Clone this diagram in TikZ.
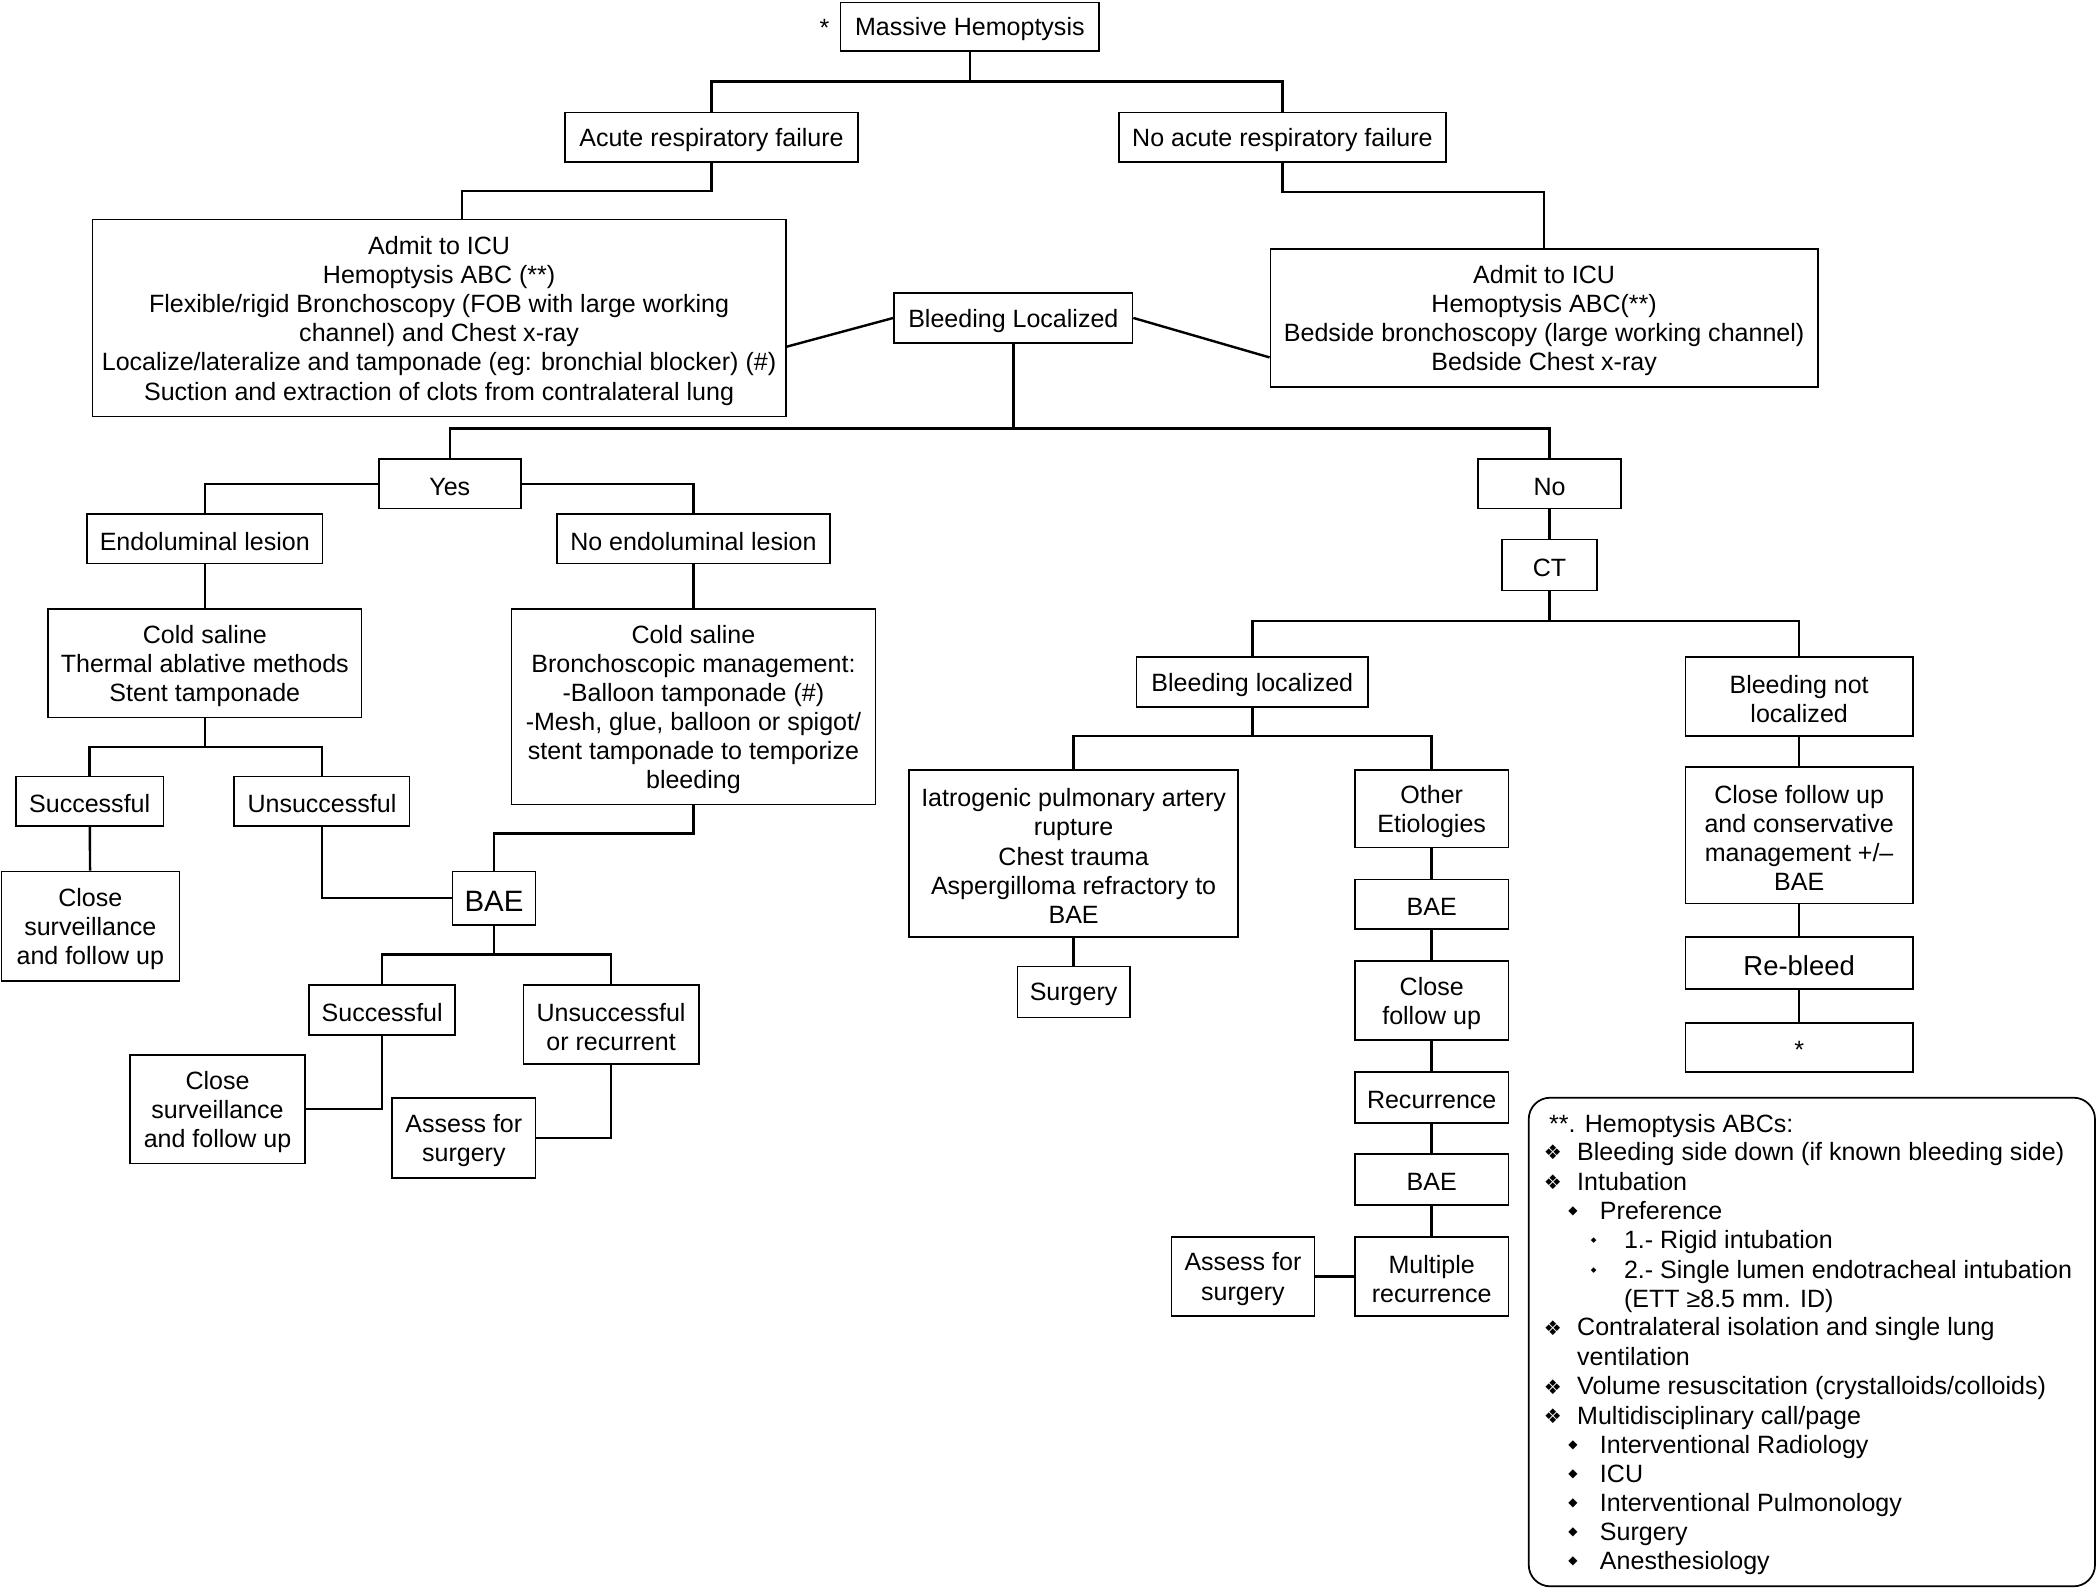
\documentclass[tikz,border=0pt]{standalone}
\usepackage{fontspec}
\setmainfont{Liberation Sans}
\newfontfamily\dejavu{DejaVu Sans}
\newcommand{\boxfont}{\fontsize{18.7}{21.8}\selectfont}
\begin{document}
\begin{tikzpicture}[x=1pt, y=-1pt,
      stage/.style={draw, line width=1.2pt, align=center, inner sep=0pt, font=\boxfont,
        execute at begin node={\vbox\bgroup\kern4pt\hbox\bgroup}, execute at end node={\egroup\egroup}},
      sz/.style 2 args={minimum width=#1pt, minimum height=#2pt},
      link/.style={line width=1.8pt},
      abcline/.style={anchor=base west, inner sep=0pt, font=\boxfont},
      abcmark/.style={inner sep=0pt, font=\dejavu\fontsize{15}{15}\selectfont},
      abcdot/.style={inner sep=0pt, font=\dejavu\fontsize{9}{9}\selectfont}
    ]
      \useasboundingbox (0,0) rectangle (1568,1186.3);

      % Top
      \node[stage, sz={193}{36}] (mh) at (724.5,20) {Massive Hemoptysis};
      \node[inner sep=0pt, font=\boxfont] (mhstar) at (616,21) {*};
      \node[stage, sz={219}{37}] (arf) at (531.5,102.5) {Acute respiratory failure};
      \node[stage, sz={244}{37}] (narf) at (958,102.5) {No acute respiratory failure};
      \node[stage, sz={518}{147}] (icul) at (328,237.5) {Admit to ICU\\Hemoptysis ABC (**)\\Flexible/rigid Bronchoscopy (FOB with large working\\channel) and Chest x-ray\\Localize/lateralize and tamponade (eg: bronchial blocker) (\#)\\Suction and extraction of clots from contralateral lung};
      \node[stage, sz={409}{103}] (icur) at (1153.5,237.5) {Admit to ICU\\Hemoptysis ABC(**)\\Bedside bronchoscopy (large working channel)\\Bedside Chest x-ray};
      \node[stage, sz={178}{37}] (bl) at (757,237.5) {Bleeding Localized};

      % Yes branch
      \node[stage, sz={106}{37}] (yes) at (336,361.5) {Yes};
      \node[stage, sz={176}{37}] (el) at (153,402.5) {Endoluminal lesion};
      \node[stage, sz={204}{37}] (nel) at (518,402.5) {No endoluminal lesion};
      \node[stage, sz={234}{81}] (csl) at (153,495.5) {Cold saline\\Thermal ablative methods\\Stent tamponade};
      \node[stage, sz={272}{146}] (csr) at (518,528) {Cold saline\\Bronchoscopic management:\\-Balloon tamponade (\#)\\-Mesh, glue, balloon or spigot/\\stent tamponade to temporize\\bleeding};
      \node[stage, sz={110}{37}] (sc1) at (67,598.5) {Successful};
      \node[stage, sz={131}{37}] (un1) at (240.5,598.5) {Unsuccessful};
      \node[stage, sz={133}{82}] (cs1) at (67.5,692) {Close\\surveillance\\and follow up};
      \node[stage, sz={62}{40}, font=\fontsize{22}{24}\selectfont] (bae1) at (369,671) {BAE};
      \node[stage, sz={109}{37}] (sc2) at (285.5,754.5) {Successful};
      \node[stage, sz={131}{59}] (ur) at (456.5,765.5) {Unsuccessful\\or recurrent};
      \node[stage, sz={131}{81}] (cs2) at (162.5,828.5) {Close\\surveillance\\and follow up};
      \node[stage, sz={107}{60}] (as1) at (346.5,850) {Assess for\\surgery};

      % No branch
      \node[stage, sz={107}{37}] (no) at (1157.5,361.5) {No};
      \node[stage, sz={71}{38}] (ct) at (1157.5,422) {CT};
      \node[stage, sz={173}{37}] (bl2) at (935.5,509.5) {Bleeding localized};
      \node[stage, sz={170}{59}] (bnl) at (1344,520.5) {Bleeding not\\localized};
      \node[stage, sz={246}{125}] (iat) at (802,637.5) {Iatrogenic pulmonary artery\\rupture\\Chest trauma\\Aspergilloma refractory to\\BAE};
      \node[stage, sz={115}{58}] (oe) at (1069.5,604) {Other\\Etiologies};
      \node[stage, sz={84}{38}] (surg) at (802,741) {Surgery};
      \node[stage, sz={115}{37}] (bae2) at (1069.5,675.5) {BAE};
      \node[stage, sz={115}{59}] (cfu) at (1069.5,747.5) {Close\\follow up};
      \node[stage, sz={115}{38}] (rec) at (1069.5,820) {Recurrence};
      \node[stage, sz={115}{38}] (bae3) at (1069.5,881) {BAE};
      \node[stage, sz={115}{59}] (mr) at (1069.5,953.5) {Multiple\\recurrence};
      \node[stage, sz={107}{59}] (as2) at (928.5,953.5) {Assess for\\surgery};
      \node[stage, sz={170}{102}] (cfc) at (1344,624) {Close follow up\\and conservative\\management +/–\\BAE};
      \node[stage, sz={170}{39}, font=\fontsize{20.5}{22}\selectfont] (rb) at (1344,719.5) {Re-bleed};
      \node[stage, sz={170}{37}] (star) at (1344,782.5) {*};

      % Connectors
      \coordinate (j1) at (724.5,61);
      \draw[link] (mh) -- (j1);
      \draw[link] (arf) |- (j1) -| (narf);
      \draw[link] (arf.south) -- ++(0,21) -| ([xshift=17pt]icul.north);
      \draw[link] (narf.south) -- ++(0,22) -| (icur.north);
      \draw[link] ([yshift=-21.5pt]icul.east) -- (bl.west);
      \draw[link] (bl.east) -- ([yshift=-29.5pt]icur.west);
      \coordinate (j2) at (757,320);
      \draw[link] (bl) -- (j2);
      \draw[link] (yes) |- (j2) -| (no);
      \draw[link] (yes.west) -| (el.north);
      \draw[link] (yes.east) -| (nel.north);
      \draw[link] (el) -- (csl);
      \draw[link] (nel) -- (csr);
      \coordinate (j3) at (153,558);
      \draw[link] (csl) -- (j3);
      \draw[link] (sc1) |- (j3) -| (un1);
      \draw[link] (sc1) -- (cs1);
      \draw[link] (un1.south) |- (bae1.west);
      \draw[link] (csr.south) -- ++(0,21) -| (bae1.north);
      \coordinate (j4) at (369,713);
      \draw[link] (bae1) -- (j4);
      \draw[link] (sc2) |- (j4) -| (ur);
      \draw[link] (sc2.south) |- (cs2.east);
      \draw[link] (ur.south) |- (as1.east);
      \draw[link] (no) -- (ct);
      \coordinate (j5) at (1157.5,464);
      \draw[link] (ct) -- (j5);
      \draw[link] (bl2) |- (j5) -| (bnl);
      \coordinate (j6) at (935.5,550);
      \draw[link] (bl2) -- (j6);
      \draw[link] (iat) |- (j6) -| (oe);
      \draw[link] (iat) -- (surg);
      \draw[link] (oe) -- (bae2);
      \draw[link] (bae2) -- (cfu);
      \draw[link] (cfu) -- (rec);
      \draw[link] (rec) -- (bae3);
      \draw[link] (bae3) -- (mr);
      \draw[link] (as2) -- (mr);
      \draw[link] (bnl) -- (cfc);
      \draw[link] (cfc) -- (rb);
      \draw[link] (rb) -- (star);

      % Hemoptysis ABCs
      \node[draw, line width=1.3pt, rounded corners=16pt, minimum width=423pt, minimum height=365pt] (abc) at (1353.5,1002.5) {};
      \node[abcline] at (1157,846) {**. Hemoptysis ABCs:};
      \node[abcmark] at (1160,861) {❖};
      \node[abcline] at (1178,867) {Bleeding side down (if known bleeding side)};
      \node[abcmark] at (1160,883) {❖};
      \node[abcline] at (1178,889) {Intubation};
      \node[abcdot] at (1175,905) {◆};
      \node[abcline] at (1195,911) {Preference};
      \node[abcdot, font=\dejavu\fontsize{5.5}{6}\selectfont] at (1190.5,927) {◆};
      \node[abcline] at (1213,933) {1.- Rigid intubation};
      \node[abcdot, font=\dejavu\fontsize{5.5}{6}\selectfont] at (1190.5,949) {◆};
      \node[abcline] at (1213,955) {2.- Single lumen endotracheal intubation};
      \node[abcline] at (1213,977) {(ETT ≥8.5 mm. ID)};
      \node[abcmark] at (1160,992) {❖};
      \node[abcline] at (1178,998) {Contralateral isolation and single lung};
      \node[abcline] at (1178,1020) {ventilation};
      \node[abcmark] at (1160,1036) {❖};
      \node[abcline] at (1178,1042) {Volume resuscitation (crystalloids/colloids)};
      \node[abcmark] at (1160,1058) {❖};
      \node[abcline] at (1178,1064) {Multidisciplinary call/page};
      \node[abcdot] at (1175,1080) {◆};
      \node[abcline] at (1195,1086) {Interventional Radiology};
      \node[abcdot] at (1175,1101.5) {◆};
      \node[abcline] at (1195,1107.5) {ICU};
      \node[abcdot] at (1175,1123) {◆};
      \node[abcline] at (1195,1129) {Interventional Pulmonology};
      \node[abcdot] at (1175,1145) {◆};
      \node[abcline] at (1195,1151) {Surgery};
      \node[abcdot] at (1175,1166.5) {◆};
      \node[abcline] at (1195,1172.5) {Anesthesiology};
    \end{tikzpicture}
\end{document}
